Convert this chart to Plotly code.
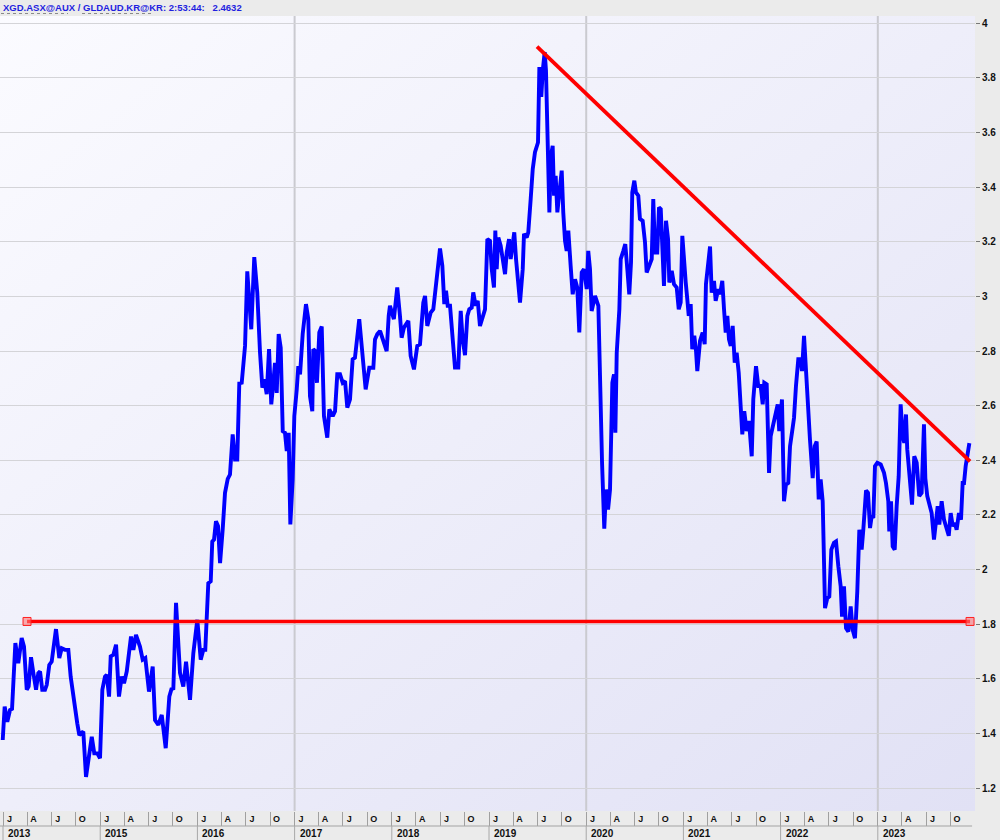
import base64
import plotly.graph_objects as go

# ---------------- data ----------------
TITLE = "XGD.ASX@AUX / GLDAUD.KR@KR: 2:53:44:\u00a0\u00a0\u00a02.4632"

# time stamps in decimal years
T = [
    2013.997, 2014.017, 2014.044, 2014.072, 2014.093, 2014.127, 2014.157, 2014.192, 2014.216, 2014.244,
    2014.264, 2014.288, 2014.312, 2014.340, 2014.363, 2014.381, 2014.404, 2014.432, 2014.450, 2014.476,
    2014.501, 2014.545, 2014.579, 2014.604, 2014.638, 2014.672, 2014.696, 2014.730, 2014.764, 2014.785,
    2014.826, 2014.854, 2014.888, 2014.913, 2014.939, 2014.970, 2014.998, 2015.022, 2015.049, 2015.067,
    2015.091, 2015.108, 2015.135, 2015.163, 2015.193, 2015.221, 2015.245, 2015.273, 2015.317, 2015.341,
    2015.368, 2015.409, 2015.437, 2015.464, 2015.502, 2015.540, 2015.564, 2015.598, 2015.633, 2015.674,
    2015.711, 2015.736, 2015.752, 2015.780, 2015.821, 2015.855, 2015.883, 2015.924, 2015.958, 2015.999,
    2016.034, 2016.061, 2016.081, 2016.112, 2016.137, 2016.153, 2016.171, 2016.191, 2016.212, 2016.233,
    2016.260, 2016.284, 2016.312, 2016.335, 2016.363, 2016.387, 2016.410, 2016.431, 2016.456, 2016.490,
    2016.513, 2016.534, 2016.554, 2016.585, 2016.616, 2016.644, 2016.668, 2016.688, 2016.713, 2016.737,
    2016.760, 2016.781, 2016.798, 2016.816, 2016.836, 2016.857, 2016.878, 2016.901, 2016.919, 2016.939,
    2016.956, 2016.980, 2016.997, 2017.022, 2017.038, 2017.056, 2017.083, 2017.117, 2017.141, 2017.158,
    2017.182, 2017.192, 2017.210, 2017.230, 2017.254, 2017.279, 2017.302, 2017.336, 2017.357, 2017.392,
    2017.416, 2017.439, 2017.467, 2017.495, 2017.519, 2017.542, 2017.570, 2017.597, 2017.621, 2017.665,
    2017.690, 2017.731, 2017.768, 2017.810, 2017.827, 2017.851, 2017.879, 2017.906, 2017.947, 2017.968,
    2017.981, 2018.021, 2018.056, 2018.084, 2018.101, 2018.125, 2018.170, 2018.194, 2018.228, 2018.262,
    2018.290, 2018.324, 2018.342, 2018.365, 2018.400, 2018.427, 2018.452, 2018.468, 2018.496, 2018.520,
    2018.540, 2018.558, 2018.575, 2018.599, 2018.626, 2018.650, 2018.684, 2018.709, 2018.729, 2018.753,
    2018.777, 2018.797, 2018.822, 2018.838, 2018.863, 2018.884, 2018.907, 2018.931, 2018.959, 2018.983,
    2019.010, 2019.028, 2019.051, 2019.065, 2019.079, 2019.096, 2019.120, 2019.141, 2019.165, 2019.182,
    2019.206, 2019.223, 2019.244, 2019.260, 2019.278, 2019.301, 2019.319, 2019.347, 2019.360, 2019.388,
    2019.404, 2019.429, 2019.450, 2019.473, 2019.491, 2019.504, 2019.518, 2019.538, 2019.553, 2019.573,
    2019.586, 2019.600, 2019.621, 2019.638, 2019.655, 2019.669, 2019.686, 2019.703, 2019.723, 2019.748,
    2019.764, 2019.782, 2019.799, 2019.816, 2019.840, 2019.861, 2019.885, 2019.908, 2019.929, 2019.954,
    2019.977, 2020.005, 2020.021, 2020.039, 2020.056, 2020.091, 2020.125, 2020.142, 2020.163, 2020.186,
    2020.204, 2020.225, 2020.245, 2020.269, 2020.286, 2020.300, 2020.314, 2020.341, 2020.355, 2020.382,
    2020.402, 2020.423, 2020.443, 2020.461, 2020.474, 2020.495, 2020.512, 2020.536, 2020.553, 2020.581,
    2020.605, 2020.622, 2020.649, 2020.674, 2020.690, 2020.708, 2020.731, 2020.749, 2020.767, 2020.787,
    2020.800, 2020.821, 2020.842, 2020.855, 2020.880, 2020.903, 2020.931, 2020.952, 2020.972, 2020.989,
    2021.006, 2021.024, 2021.040, 2021.055, 2021.075, 2021.091, 2021.112, 2021.130, 2021.143, 2021.171,
    2021.198, 2021.219, 2021.232, 2021.253, 2021.274, 2021.291, 2021.315, 2021.332, 2021.359, 2021.377,
    2021.400, 2021.418, 2021.435, 2021.452, 2021.469, 2021.487, 2021.507, 2021.528, 2021.548, 2021.569,
    2021.589, 2021.606, 2021.626, 2021.651, 2021.675, 2021.703, 2021.719, 2021.747, 2021.770, 2021.795,
    2021.816, 2021.832, 2021.857, 2021.881, 2021.898, 2021.925, 2021.953, 2021.970, 2021.986, 2022.014,
    2022.035, 2022.055, 2022.079, 2022.097, 2022.124, 2022.138, 2022.158, 2022.182, 2022.207, 2022.220,
    2022.241, 2022.261, 2022.282, 2022.302, 2022.330, 2022.351, 2022.371, 2022.392, 2022.412, 2022.433,
    2022.457, 2022.480, 2022.501, 2022.522, 2022.549, 2022.570, 2022.594, 2022.618, 2022.632, 2022.652,
    2022.673, 2022.697, 2022.721, 2022.742, 2022.765, 2022.789, 2022.810, 2022.834, 2022.851, 2022.879,
    2022.899, 2022.920, 2022.937, 2022.954, 2022.971, 2022.995, 2023.030, 2023.064, 2023.084, 2023.108,
    2023.118, 2023.136, 2023.153, 2023.174, 2023.194, 2023.215, 2023.235, 2023.256, 2023.272, 2023.290,
    2023.303, 2023.331, 2023.352, 2023.375, 2023.400, 2023.426, 2023.451, 2023.475, 2023.489, 2023.509,
    2023.530, 2023.554, 2023.578, 2023.596, 2023.616, 2023.633, 2023.657, 2023.681, 2023.702, 2023.730,
    2023.750, 2023.771, 2023.794, 2023.811, 2023.835, 2023.856, 2023.873, 2023.887, 2023.904, 2023.921,
    2023.942,
]

# XGD / gold-in-AUD ratio
RATIO = [
    1.376, 1.498, 1.443, 1.486, 1.490, 1.731, 1.657, 1.749, 1.718, 1.560,
    1.572, 1.679, 1.621, 1.560, 1.621, 1.627, 1.560, 1.560, 1.578, 1.651,
    1.663, 1.782, 1.676, 1.712, 1.706, 1.706, 1.608, 1.511, 1.437, 1.394,
    1.407, 1.241, 1.327, 1.388, 1.327, 1.327, 1.309, 1.560, 1.608, 1.615,
    1.535, 1.682, 1.688, 1.725, 1.535, 1.608, 1.584, 1.627, 1.755, 1.706,
    1.761, 1.718, 1.670, 1.676, 1.553, 1.645, 1.449, 1.431, 1.468, 1.346,
    1.535, 1.566, 1.560, 1.878, 1.621, 1.572, 1.663, 1.523, 1.694, 1.816,
    1.670, 1.706, 1.706, 1.950, 1.957, 2.103, 2.110, 2.177, 2.160, 2.024,
    2.146, 2.281, 2.332, 2.348, 2.495, 2.403, 2.403, 2.682, 2.684, 2.819,
    3.092, 2.978, 2.880, 3.144, 3.014, 2.795, 2.666, 2.697, 2.642, 2.807,
    2.605, 2.684, 2.757, 2.647, 2.862, 2.813, 2.507, 2.501, 2.434, 2.501,
    2.165, 2.330, 2.562, 2.660, 2.745, 2.715, 2.862, 2.972, 2.917, 2.635,
    2.580, 2.807, 2.801, 2.684, 2.868, 2.890, 2.562, 2.483, 2.587, 2.562,
    2.580, 2.715, 2.715, 2.684, 2.690, 2.593, 2.623, 2.770, 2.776, 2.917,
    2.807, 2.660, 2.739, 2.739, 2.843, 2.862, 2.874, 2.843, 2.800, 2.929,
    2.966, 2.917, 3.033, 2.929, 2.849, 2.886, 2.911, 2.782, 2.733, 2.819,
    2.825, 2.978, 3.002, 2.892, 2.941, 2.953, 3.039, 3.112, 3.176, 3.112,
    2.972, 3.021, 2.966, 2.966, 2.843, 2.740, 2.740, 2.947, 2.843, 2.785,
    2.929, 2.953, 2.959, 3.015, 2.966, 2.984, 2.892, 2.917, 2.953, 3.210,
    3.204, 3.100, 3.033, 3.241, 3.100, 3.216, 3.186, 3.137, 3.082, 3.161,
    3.210, 3.137, 3.210, 3.235, 3.137, 3.039, 2.978, 3.100, 3.229, 3.216,
    3.235, 3.357, 3.467, 3.528, 3.552, 3.564, 3.840, 3.731, 3.828, 3.895,
    3.828, 3.614, 3.308, 3.516, 3.552, 3.369, 3.442, 3.308, 3.369, 3.461,
    3.308, 3.204, 3.167, 3.241, 3.112, 3.008, 3.063, 3.033, 2.868, 3.088,
    3.100, 3.027, 3.167, 3.100, 2.947, 3.002, 2.966, 2.660, 2.391, 2.150,
    2.293, 2.220, 2.293, 2.684, 2.715, 2.501, 2.794, 2.953, 3.137, 3.167,
    3.192, 3.100, 3.008, 3.125, 3.381, 3.424, 3.381, 3.369, 3.284, 3.277,
    3.198, 3.088, 3.112, 3.137, 3.357, 3.161, 3.161, 3.326, 3.320, 3.161,
    3.039, 3.277, 3.210, 3.051, 3.094, 3.045, 3.033, 2.953, 2.978, 3.222,
    3.125, 3.051, 2.990, 2.929, 2.972, 2.807, 2.856, 2.800, 2.727, 2.837,
    2.868, 2.825, 3.045, 3.112, 3.183, 3.014, 3.057, 2.984, 3.027, 3.008,
    3.057, 2.953, 2.868, 2.929, 2.843, 2.819, 2.892, 2.758, 2.794, 2.721,
    2.574, 2.495, 2.580, 2.507, 2.544, 2.415, 2.623, 2.745, 2.672, 2.672,
    2.605, 2.684, 2.678, 2.354, 2.489, 2.532, 2.593, 2.605, 2.507, 2.623,
    2.250, 2.311, 2.317, 2.452, 2.519, 2.556, 2.672, 2.770, 2.770, 2.727,
    2.856, 2.733, 2.568, 2.477, 2.335, 2.452, 2.469, 2.257, 2.330, 2.250,
    1.859, 1.895, 1.901, 2.073, 2.098, 2.103, 2.012, 1.939, 1.828, 1.939,
    1.786, 1.773, 1.865, 1.779, 1.749, 1.920, 2.146, 2.073, 2.146, 2.290,
    2.281, 2.152, 2.195, 2.189, 2.379, 2.391, 2.385, 2.354, 2.317, 2.250,
    2.140, 2.250, 2.085, 2.073, 2.232, 2.342, 2.605, 2.489, 2.464, 2.568,
    2.440, 2.330, 2.238, 2.415, 2.391, 2.269, 2.281, 2.532, 2.335, 2.269,
    2.244, 2.207, 2.110, 2.183, 2.232, 2.165, 2.250, 2.183, 2.159, 2.124,
    2.207, 2.159, 2.170, 2.146, 2.207, 2.183, 2.317, 2.317, 2.379, 2.415,
    2.463,
]

# hand-drawn trend lines (support and resistance)
SUPPORT_T = [2014.247, 2023.949]
SUPPORT_V = [1.810, 1.810]
RESIST_T = [2019.494, 2023.949]
RESIST_V = [3.915, 2.396]

# axis labelling
YEAR_STARTS = [2014, 2015, 2016, 2017, 2018, 2019, 2020, 2021, 2022, 2023]
YEAR_LABELS = ["2013", "2015", "2016", "2017", "2018", "2019", "2020", "2021", "2022", "2023"]
MONTH_LETTERS = ["J", "A", "J", "O"]
QUARTER_STARTS = [0.0, 0.247, 0.496, 0.748]
GRID_YEARS = [2017, 2020, 2023]
Y_TICKS = [1.2, 1.4, 1.6, 1.8, 2.0, 2.2, 2.4, 2.6, 2.8, 3.0, 3.2, 3.4, 3.6, 3.8, 4.0]
Y_TICK_LABELS = ["1.2", "1.4", "1.6", "1.8", "2", "2.2", "2.4", "2.6", "2.8", "3",
                 "3.2", "3.4", "3.6", "3.8", "4"]

# ---------------- layout geometry ----------------
W, H = 1000, 840
ML, MR, MT, MB = 0, 25, 16, 29
PW = W - ML - MR
PH = H - MT - MB
X_RANGE = [2013.969, 2024.0]
Y_RANGE = [1.116, 4.027]
FONT = "Liberation Sans, Arial, sans-serif"


def below(px):
    """paper y coordinate for a pixel offset below the plot area"""
    return -px / PH


def above(px):
    return 1 + px / PH


# quarter boundaries (separators) and label centres
q_bounds = [y + q for y in YEAR_STARTS for q in QUARTER_STARTS]
q_label_pos = [b + 0.066 for b in q_bounds]
q_label_txt = [MONTH_LETTERS[i % 4] for i in range(len(q_bounds))]

# gradient background for plot area (svg data uri)
svg = (
    '<svg xmlns="http://www.w3.org/2000/svg" width="975" height="795" '
    'viewBox="0 0 975 795" preserveAspectRatio="none">'
    '<defs><linearGradient id="g" x1="0" y1="0" x2="1" y2="1">'
    '<stop offset="0" stop-color="#fbfbff"/>'
    '<stop offset="1" stop-color="#e1e1f5"/>'
    '</linearGradient></defs>'
    '<rect x="0" y="0" width="975" height="795" fill="url(#g)"/></svg>'
)
bg_src = "data:image/svg+xml;base64," + base64.b64encode(svg.encode()).decode()

fig = go.Figure()

fig.add_trace(go.Scatter(
    x=T, y=RATIO, mode="lines",
    line=dict(color="#0000ff", width=3.9),
    hoverinfo="skip",
))
fig.add_trace(go.Scatter(
    x=SUPPORT_T, y=SUPPORT_V, mode="lines+markers",
    line=dict(color="#ff0000", width=3.4),
    marker=dict(symbol="square", size=8, color="rgba(255,120,120,0.6)",
                line=dict(color="#ff2020", width=1)),
    hoverinfo="skip",
))
fig.add_trace(go.Scatter(
    x=RESIST_T, y=RESIST_V, mode="lines",
    line=dict(color="#ff0000", width=3.8),
    hoverinfo="skip",
))

shapes = []
# vertical grid lines
for gy in GRID_YEARS:
    shapes.append(dict(type="line", xref="x", yref="paper", x0=gy, x1=gy, y0=0, y1=1,
                       line=dict(color="#cacad0", width=2), layer="below"))
# separator between month row and year row
shapes.append(dict(type="line", xref="paper", yref="paper", x0=0, x1=0.997,
                   y0=below(15), y1=below(15), line=dict(color="#a4a4a4", width=1.2)))
# year separators in year row
for ys in YEAR_STARTS:
    shapes.append(dict(type="line", xref="x", yref="paper", x0=ys, x1=ys,
                       y0=below(15), y1=below(29), line=dict(color="#a8a8a8", width=1)))
# dotted underlines in the header
for x0, x1 in [(1, 68), (82, 153)]:
    shapes.append(dict(type="line", xref="paper", yref="paper", x0=x0 / PW, x1=x1 / PW,
                       y0=above(2.5), y1=above(2.5),
                       line=dict(color="#8a8a8a", width=1, dash="dot")))

annotations = [dict(
    text=TITLE, xref="paper", yref="paper", x=0, y=1, xanchor="left", yanchor="middle",
    xshift=1, yshift=9, showarrow=False,
    font=dict(family=FONT, size=9.5, color="#1f1fe0", weight="bold"),
)]
for ys, lab in zip(YEAR_STARTS, YEAR_LABELS):
    annotations.append(dict(
        text=lab, xref="x", yref="paper", x=ys, y=0, xanchor="left", yanchor="middle",
        xshift=3, yshift=-22, showarrow=False,
        font=dict(family=FONT, size=10, color="#111111", weight="bold"),
    ))

fig.update_layout(
    width=W, height=H,
    margin=dict(l=ML, r=MR, t=MT, b=MB, pad=0),
    paper_bgcolor="#ebebeb",
    plot_bgcolor="rgba(0,0,0,0)",
    showlegend=False,
    hovermode=False,
    images=[dict(source=bg_src, xref="paper", yref="paper", x=0, y=1, sizex=1, sizey=1,
                 xanchor="left", yanchor="top", sizing="stretch", layer="below")],
    shapes=shapes,
    annotations=annotations,
    xaxis=dict(
        range=X_RANGE, showgrid=False, zeroline=False, showline=False,
        tickmode="array", tickvals=q_label_pos, ticktext=q_label_txt, ticks="",
        tickfont=dict(family=FONT, size=9, color="#111111", weight="bold"),
        ticklabelstandoff=1,
        minor=dict(tickmode="array", tickvals=q_bounds, ticks="outside", ticklen=14,
                   tickcolor="#a0a0a0", tickwidth=1, showgrid=False),
        fixedrange=True,
    ),
    yaxis=dict(
        range=Y_RANGE, side="right", showgrid=True, gridcolor="#d4d4d8", gridwidth=1.4,
        zeroline=False, showline=False,
        tickmode="array", tickvals=Y_TICKS, ticktext=Y_TICK_LABELS,
        ticks="outside", ticklen=4, tickcolor="#777777", tickwidth=1,
        tickfont=dict(family=FONT, size=10, color="#111111", weight="bold"),
        fixedrange=True,
    ),
)

fig.write_html("out.html", config={"displayModeBar": False},
               post_script="document.body.style.margin='0';")
